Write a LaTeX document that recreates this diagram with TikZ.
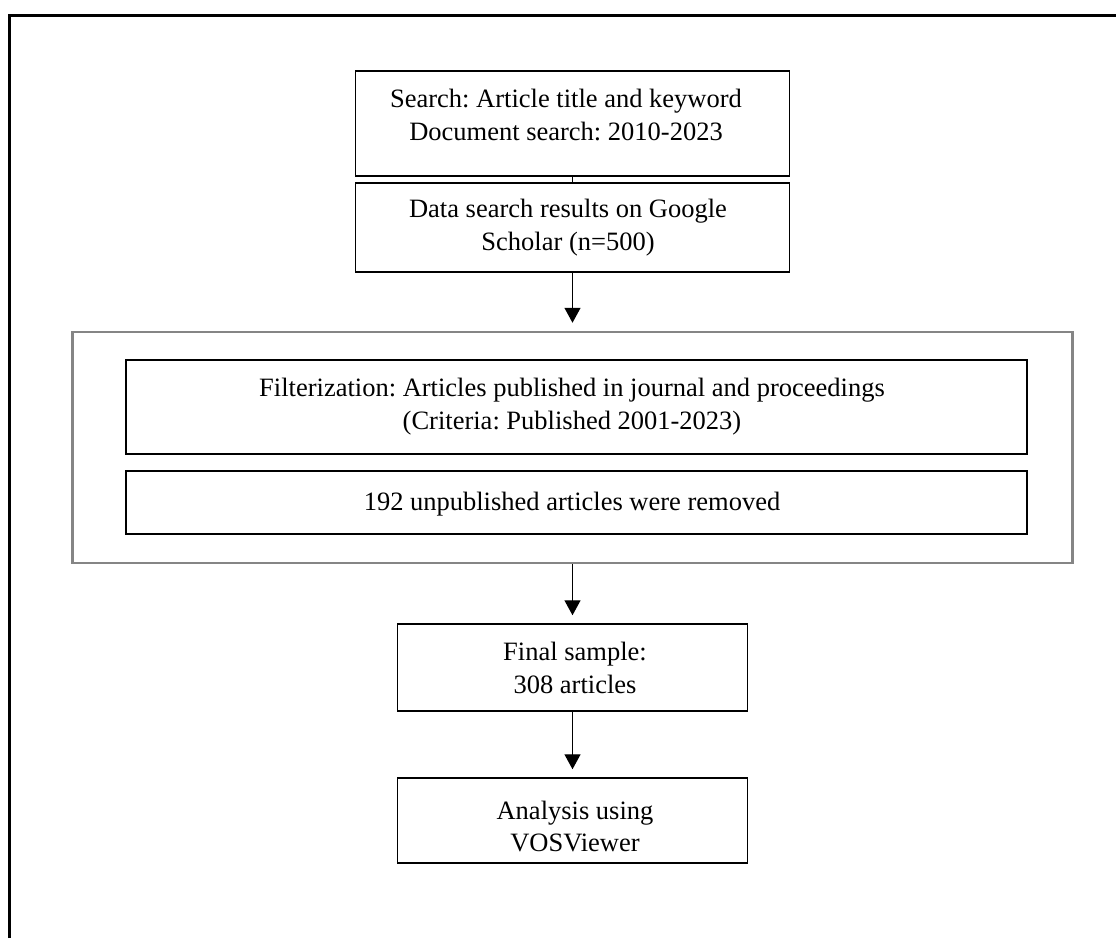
\documentclass[tikz,border=0pt]{standalone}
\usepackage{fontspec}
\setmainfont{Liberation Serif}
\usetikzlibrary{arrows.meta}
\frenchspacing
\begin{document}
\begin{tikzpicture}[x=1pt,y=-1pt,
  box/.style={draw=black, line width=1.5pt, rectangle, inner sep=0pt},
  graybox/.style={draw=black!48, line width=2.5pt, rectangle, inner sep=0pt},
  txt/.style={font=\fontsize{26.5}{33}\selectfont, anchor=base, inner sep=0pt},
  conn/.style={draw=black, line width=1.4pt},
  arr/.style={conn, -{Triangle[width=16pt,length=15pt]}, shorten >=8pt},
]
\useasboundingbox (0,0) rectangle (1116,938);
\draw[line width=3pt] (9.5,938) -- (9.5,15) -- (1116,15);

% boxes
\node[box, minimum width=434pt, minimum height=105pt] (b1) at (572.5,123.5) {};
\node[box, minimum width=434pt, minimum height=89pt] (b2) at (572.5,227.5) {};
\node[graybox, minimum width=1000pt, minimum height=231pt] (grp) at (572.5,447.5) {};
\node[box, minimum width=901pt, minimum height=94pt] (f1) at (576.5,407) {};
\node[box, minimum width=901pt, minimum height=63pt] (f2) at (576.5,502.5) {};
\node[box, minimum width=350pt, minimum height=87pt] (fin) at (572.5,667.5) {};
\node[box, minimum width=350pt, minimum height=85pt] (ana) at (572.5,820.5) {};

% texts
\node[txt] (t1a) at (566,107) {Search: Article title and keyword};
\node[txt] (t1b) at (566,140) {Document search: 2010-2023};
\node[txt] (t2a) at (568,217) {Data search results on Google};
\node[txt] (t2b) at (568,250) {Scholar (n=500)};
\node[txt] (t3a) at (572,396) {Filterization: Articles published in journal and proceedings};
\node[txt] (t3b) at (572,429) {(Criteria: Published 2001-2023)};
\node[txt] (t4) at (572,510) {192 unpublished articles were removed};
\node[txt] (t5a) at (575,660) {Final sample:};
\node[txt] (t5b) at (575,693) {308 articles};
\node[txt] (t6a) at (575,819) {Analysis using};
\node[txt] (t6b) at (575,851) {VOSViewer};

% connectors
\draw[conn] (b1.south) -- (b2.north);
\draw[arr] (b2.south) -- (grp.north);
\draw[arr] (grp.south) -- (fin.north);
\draw[arr] (fin.south) -- (ana.north);
\end{tikzpicture}
\end{document}
